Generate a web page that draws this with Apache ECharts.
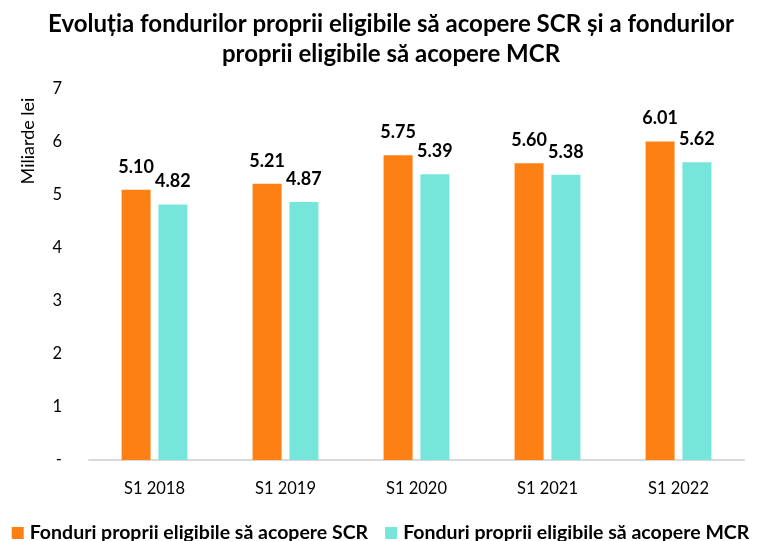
<!DOCTYPE html>
<html>
<head>
<meta charset="utf-8">
<script src="https://cdn.jsdelivr.net/npm/echarts@6/dist/echarts.min.js"></script>
<style>
  html, body { margin: 0; padding: 0; background: #fff; }
  #chart { width: 761px; height: 541px; }
</style>
</head>
<body>
<div id="chart"></div>
<script>
// Eligible own funds (billion lei) for SCR and MCR coverage
const categories = ['S1 2018', 'S1 2019', 'S1 2020', 'S1 2021', 'S1 2022'];
const scrValues = [5.10, 5.21, 5.75, 5.60, 6.01];
const mcrValues = [4.82, 4.87, 5.39, 5.38, 5.62];
const yTicks = ['-', '1', '2', '3', '4', '5', '6', '7'];

const seriesNames = [
  'Fonduri proprii eligibile să acopere SCR',
  'Fonduri proprii eligibile să acopere MCR'
];

const FONT = 'Lato, "Open Sans", sans-serif';

const chart = echarts.init(document.getElementById('chart'));

const labelStyle = {
  show: true,
  position: 'top',
  distance: 14,
  fontFamily: FONT,
  fontWeight: 'bold',
  fontSize: 18,
  color: '#000',
  formatter: p => p.value.toFixed(2)
};

chart.setOption({
  animation: false,
  backgroundColor: '#fff',
  title: {
    text: 'Evoluția fondurilor proprii eligibile să acopere SCR și a fondurilor\nproprii eligibile să acopere MCR',
    left: 386,
    textAlign: 'center',
    top: 4,
    textStyle: {
      fontFamily: FONT,
      fontWeight: 'bold',
      fontSize: 24,
      lineHeight: 30,
      color: '#000'
    }
  },
  graphic: [{
    type: 'text',
    x: 28,
    y: 141,
    rotation: Math.PI / 2,
    style: {
      text: 'Miliarde lei',
      fontFamily: FONT,
      fontSize: 18,
      fill: '#000',
      align: 'center',
      verticalAlign: 'middle'
    }
  }],
  legend: {
    top: 518,
    left: 'center',
    itemWidth: 12,
    itemHeight: 12,
    itemGap: 17,
    icon: 'rect',
    textStyle: {
      fontFamily: FONT,
      fontWeight: 'bold',
      fontSize: 19.5,
      color: '#000',
      padding: [0, 0, 0, 1]
    },
    data: seriesNames
  },
  grid: { left: 89, right: 17, top: 89, bottom: 81 },
  xAxis: {
    type: 'category',
    data: categories,
    axisLine: { lineStyle: { color: '#D9D9D9', width: 2 } },
    axisTick: { show: false },
    axisLabel: {
      fontFamily: FONT,
      fontSize: 16.5,
      color: '#000',
      margin: 20
    }
  },
  yAxis: {
    type: 'value',
    min: 0,
    max: 7,
    interval: 1,
    splitLine: { show: false },
    axisLine: { show: false },
    axisTick: { show: false },
    axisLabel: {
      fontFamily: FONT,
      fontSize: 16.5,
      color: '#000',
      margin: 27,
      formatter: v => yTicks[v]
    }
  },
  series: [
    {
      name: seriesNames[0],
      type: 'bar',
      data: scrValues,
      barWidth: 29,
      barGap: '27%',
      itemStyle: { color: '#FD8014' },
      label: labelStyle
    },
    {
      name: seriesNames[1],
      type: 'bar',
      data: mcrValues,
      barWidth: 29,
      itemStyle: { color: '#76E6DB' },
      label: labelStyle
    }
  ]
});
</script>
</body>
</html>
